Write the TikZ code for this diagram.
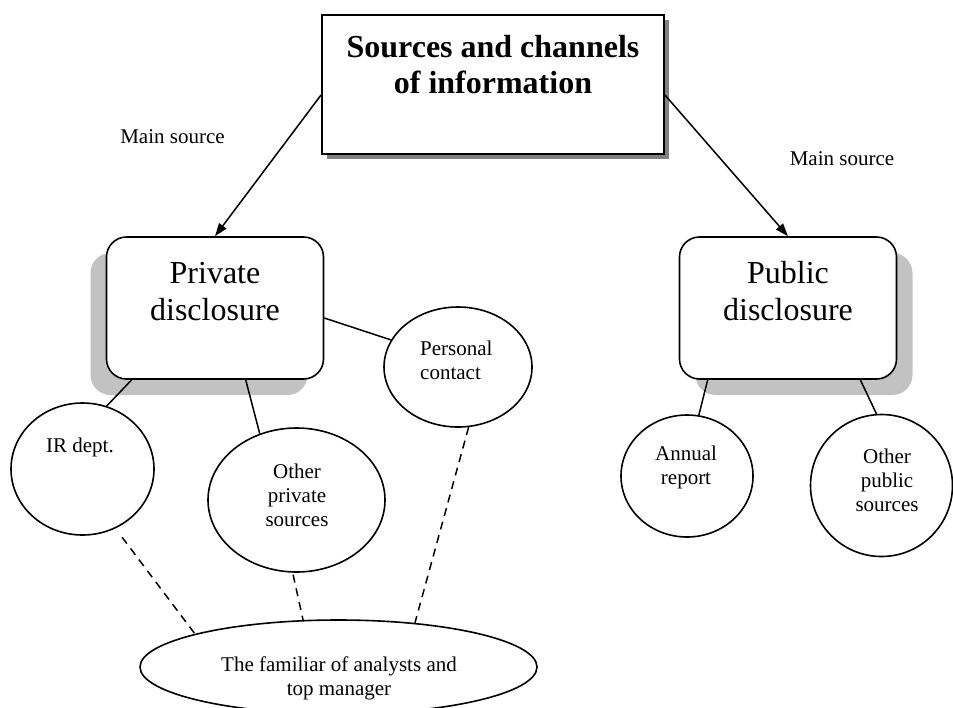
\documentclass[tikz,border=0pt]{standalone}
\usepackage{fontspec}
\setmainfont{Liberation Serif}
\usetikzlibrary{shapes.geometric,arrows.meta,shadows}

\begin{document}
\begin{tikzpicture}[x=1pt,y=-1pt,
  small/.style={font=\fontsize{21}{24}\selectfont, align=center, inner sep=0pt},
  large/.style={font=\fontsize{32}{37}\selectfont, align=center, inner sep=0pt},
  titlebox/.style={draw, line width=1.9pt, fill=white, minimum width=342pt,
    minimum height=139pt, inner sep=0pt,
    drop shadow={shadow xshift=5pt, shadow yshift=-5pt, fill=black!50, opacity=1}},
  disc/.style={draw, line width=1.6pt, rounded corners=20pt, fill=white,
    minimum width=217pt, minimum height=142pt, inner sep=0pt},
  bubble/.style={draw, ellipse, line width=1.6pt, inner sep=0pt, fill=white},
  link/.style={line width=1.5pt},
  hint/.style={line width=1.5pt, dash pattern=on 8pt off 6pt},
  tip/.style={-{Triangle[length=13pt,width=9pt]}}
]
\useasboundingbox (0,0) rectangle (953,707);

% headline box (anchor=base sits on the last line of a multi-line node)
\node[titlebox] (top) at (493,84.5) {};
\node[large, font=\fontsize{32}{36}\selectfont\bfseries, anchor=base] (toptext) at (493,93)
  {Sources and channels\\of information};

% the two disclosure boxes with their soft shadows
\node[disc, drop shadow={shadow xshift=-16pt, shadow yshift=-16pt, fill=black!24, opacity=1}]
  (priv) at (215,308) {};
\node[large, anchor=base] (privtext) at (215,320) {Private\\disclosure};
\node[disc, drop shadow={shadow xshift=16pt, shadow yshift=-16pt, fill=black!24, opacity=1}]
  (pub) at (788,308) {};
\node[large, anchor=base] (pubtext) at (788,320) {Public\\disclosure};

% channel labels
\node[small, anchor=base] (mainl) at (172.5,143) {Main source};
\node[small, anchor=base] (mainr) at (842,165) {Main source};

% private channels
\node[bubble, minimum width=143pt, minimum height=132pt] (ir) at (82.5,469) {};
\node[small, anchor=base] (irtext) at (80,452) {IR dept.};
\node[bubble, minimum width=177pt, minimum height=144pt] (ops) at (296.5,500) {};
\node[small, anchor=base] (opstext) at (297,526) {Other\\private\\sources};
\node[bubble, minimum width=148pt, minimum height=120pt] (pc) at (458,367) {};
\node[small, align=left, anchor=base west] (pctext) at (420,379) {Personal\\contact};

% public channels
\node[bubble, minimum width=132pt, minimum height=122pt] (ar) at (687,476) {};
\node[small, anchor=base] (artext) at (686,484) {Annual\\report};
\node[bubble, minimum width=142pt, minimum height=142pt] (opub) at (881.5,485.5) {};
\node[small, anchor=base] (opubtext) at (887,511) {Other\\public\\sources};

% analysts and management
\node[bubble, minimum width=397pt, minimum height=94pt] (fam) at (338.5,667) {};
\node[small, anchor=base] (famtext) at (339,695) {The familiar of analysts and\\top manager};

% main arrows
\draw[link, tip] ([yshift=-10.5pt]top.west) -- (priv.north);
\draw[link, tip] ([yshift=-10.5pt]top.east) -- (pub.north);

% solid links to the channels
\draw[link] ([xshift=26pt]priv.south west) -- (ir.69);
\draw[link] ([xshift=140pt]priv.south west) -- (ops.119);
\draw[link] ([yshift=-10pt]priv.east) -- (pc.158);
\draw[link] ([xshift=29pt]pub.south west) -- (ar.79);
\draw[link] ([xshift=-37pt]pub.south east) -- (opub.94);

% dashed links to the analysts
\draw[hint, shorten <=11pt] (ir.-61) -- (fam.167.5);
\draw[hint, shorten <=2pt] (ops.-93) -- (fam.127.5);
\draw[hint] (pc.-80) -- (fam.30);
\end{tikzpicture}
\end{document}
